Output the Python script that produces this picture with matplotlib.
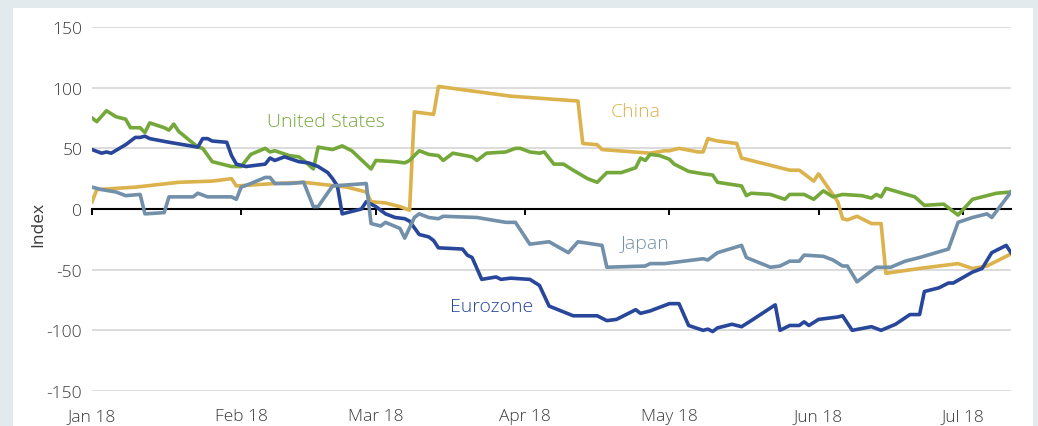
import matplotlib
matplotlib.use("Agg")
import matplotlib.pyplot as plt
import pandas as pd
from matplotlib.patches import Rectangle

plt.rcParams["font.family"] = ["Open Sans", "DejaVu Sans"]
plt.rcParams["font.weight"] = "light"

START = pd.Timestamp("2018-01-01")
END_DAY = 191

# days since 1 Jan 2018 and index values
us_days = [0, 1, 3, 5, 7, 8, 10, 11, 12, 15, 16, 17, 18, 22, 23, 25, 29, 31, 33, 36,
           37, 38, 41, 43, 44, 46, 47, 50, 52, 54, 58, 59, 63, 65, 66, 68, 70, 72, 73, 75,
           79, 80, 82, 86, 88, 89, 91, 93, 94, 96, 98, 100, 103, 105, 107, 110, 113, 114, 115, 116,
           118, 120, 121, 122, 124, 127, 129, 130, 135, 136, 137, 141, 144, 145, 148, 150, 152, 154, 156, 160,
           162, 163, 164, 165, 171, 173, 177, 180, 183, 185, 187, 188, 191]
us_vals = [75, 72, 81, 76, 74, 67, 67, 63, 71, 67, 65, 70, 64, 51, 50, 39, 35, 35, 45, 50,
           47, 48, 44, 43, 40, 33, 51, 49, 52, 48, 33, 40, 39, 38, 40, 48, 45, 44, 40, 46,
           43, 40, 46, 47, 50, 50, 47, 46, 47, 37, 37, 32, 25, 22, 30, 30, 34, 42, 40, 45,
           44, 41, 37, 35, 31, 29, 28, 22, 19, 11, 13, 12, 8, 12, 12, 8, 15, 10, 12, 11,
           9, 12, 10, 17, 10, 3, 4, -5, 8, 10, 12, 13, 14]

china_days = [0, 1, 9, 18, 25, 29, 30, 38, 44, 53, 56, 57, 58, 61, 64, 66, 67, 71, 72, 87,
              101, 102, 105, 106, 116, 119, 120, 122, 126, 127, 128, 130, 134, 135, 145, 147, 149, 150, 151, 155,
              156, 157, 159, 162, 164, 165, 172, 180, 183, 186, 188, 191]
china_vals = [6, 16, 18, 22, 23, 25, 19, 21, 22, 18, 15, 14, 6, 5, 2, -1, 80, 78, 101, 93,
              89, 54, 53, 49, 46, 48, 48, 50, 47, 47, 58, 56, 54, 42, 32, 32, 26, 23, 29, 6,
              -8, -9, -6, -12, -12, -53, -49, -45, -49, -47, -43, -37]

japan_days = [0, 2, 5, 7, 10, 11, 15, 16, 21, 22, 24, 29, 30, 31, 33, 36, 37, 38, 41, 44,
              46, 47, 50, 57, 58, 60, 61, 64, 65, 67, 68, 70, 72, 73, 80, 86, 88, 91, 95, 99,
              101, 106, 107, 115, 116, 119, 127, 128, 130, 135, 136, 141, 143, 145, 147, 148, 152, 154, 156, 157,
              159, 163, 166, 169, 172, 178, 180, 183, 186, 187, 191]
japan_vals = [18, 16, 14, 11, 12, -4, -3, 10, 10, 13, 10, 10, 8, 18, 21, 26, 26, 21, 21, 22,
              2, 2, 19, 21, -12, -14, -11, -16, -24, -7, -4, -7, -8, -6, -7, -11, -11, -29, -27, -36,
              -27, -30, -48, -47, -45, -45, -41, -42, -36, -30, -40, -48, -47, -43, -43, -38, -39, -42, -47, -47,
              -60, -48, -48, -43, -40, -33, -11, -7, -4, -7, 14]

euro_days = [0, 2, 3, 4, 7, 9, 10, 11, 12, 16, 22, 23, 24, 25, 28, 29, 30, 32, 36, 37,
             38, 40, 43, 45, 47, 49, 50, 51, 52, 56, 57, 59, 61, 63, 65, 66, 68, 70, 71, 72,
             77, 78, 79, 81, 84, 85, 87, 91, 93, 95, 100, 101, 105, 107, 109, 113, 114, 116, 120, 122,
             124, 127, 128, 129, 130, 133, 135, 137, 142, 143, 145, 147, 148, 149, 151, 155, 156, 158, 162, 164,
             167, 170, 172, 173, 176, 178, 179, 183, 185, 187, 190, 191]
euro_vals = [49, 46, 47, 46, 53, 59, 59, 60, 58, 55, 51, 58, 58, 56, 55, 44, 37, 35, 37, 42,
             40, 43, 39, 38, 35, 30, 25, 19, -4, 0, 6, 2, -4, -7, -8, -10, -21, -23, -26, -32,
             -33, -38, -40, -58, -56, -58, -57, -58, -63, -80, -88, -88, -88, -92, -91, -83, -86, -84, -78, -78,
             -96, -100, -99, -101, -98, -95, -97, -92, -79, -100, -96, -96, -93, -96, -91, -89, -88, -100, -97, -100,
             -95, -87, -87, -68, -65, -61, -61, -52, -49, -36, -30, -36]

month_starts = ["2018-01-01", "2018-02-01", "2018-03-01", "2018-04-01",
                "2018-05-01", "2018-06-01", "2018-07-01"]
month_labels = ["Jan 18", "Feb 18", "Mar 18", "Apr 18", "May 18", "Jun 18", "Jul 18"]
y_ticks = [-150, -100, -50, 0, 50, 100, 150]

GREEN = "#75a83a"
GOLD = "#dbb24b"
SLATE = "#7290a9"
NAVY = "#29479a"
TXT = "#3a3a3a"


def to_dates(days):
    return START + pd.to_timedelta(days, unit="D")


fig = plt.figure(figsize=(10.38, 4.27), dpi=100)
fig.patch.set_facecolor("#e3eaed")
fig.patches.append(Rectangle((13 / 1038, 0), 1020 / 1038, 1 - 9 / 427,
                             transform=fig.transFigure, facecolor="white",
                             edgecolor="none", zorder=-10))

ax = fig.add_axes([92 / 1038, 1 - 392 / 427, 919 / 1038, 364 / 427])
ax.set_facecolor("none")
ax.set_zorder(1)

lw = 2.6
ax.plot(to_dates(china_days), china_vals, color=GOLD, lw=lw, zorder=3)
ax.plot(to_dates(us_days), us_vals, color=GREEN, lw=lw, zorder=4)
ax.plot(to_dates(euro_days), euro_vals, color=NAVY, lw=lw, zorder=5)
ax.plot(to_dates(japan_days), japan_vals, color=SLATE, lw=lw, zorder=6)

ax.set_xlim(START, START + pd.Timedelta(days=END_DAY))
ax.set_ylim(-150, 150)

for s in ax.spines.values():
    s.set_visible(False)

ax.set_yticks(y_ticks)
ax.set_yticklabels([str(v) for v in y_ticks])
ax.yaxis.grid(True, color="#d9d9d9", lw=1.3)
ax.set_axisbelow(True)
ax.tick_params(axis="y", length=0, pad=7, labelsize=12.5, labelcolor=TXT)

month_dates = pd.to_datetime(month_starts)
ax.set_xticks(month_dates)
ax.set_xticklabels(month_labels)
ax.tick_params(axis="x", length=0, pad=12, labelsize=12.5, labelcolor=TXT)

# zero line with month tick marks
zero = ax.secondary_xaxis(0.5)
zero.set_alignment("bottom")
zero.set_xticks(month_dates)
zero.tick_params(axis="x", direction="out", length=4, width=1.4, color="black",
                 labelbottom=False, labeltop=False)
zero.spines["bottom"].set_color("black")
zero.spines["bottom"].set_linewidth(1.5)
zero.set_zorder(2)

ax.set_ylabel("Index", fontsize=12.5, color=TXT)
ax.yaxis.set_label_coords(-0.05, 0.46)

lab = dict(fontsize=14, ha="center", va="center")
ax.text(START + pd.Timedelta(days=48.6), 72.5, "United States", color=GREEN, **lab)
ax.text(START + pd.Timedelta(days=113), 81, "China", color=GOLD, **lab)
ax.text(START + pd.Timedelta(days=115), -28, "Japan", color=SLATE, **lab)
ax.text(START + pd.Timedelta(days=83), -80, "Eurozone", color=NAVY, **lab)

fig.savefig("out.png", dpi=100, facecolor=fig.get_facecolor())
